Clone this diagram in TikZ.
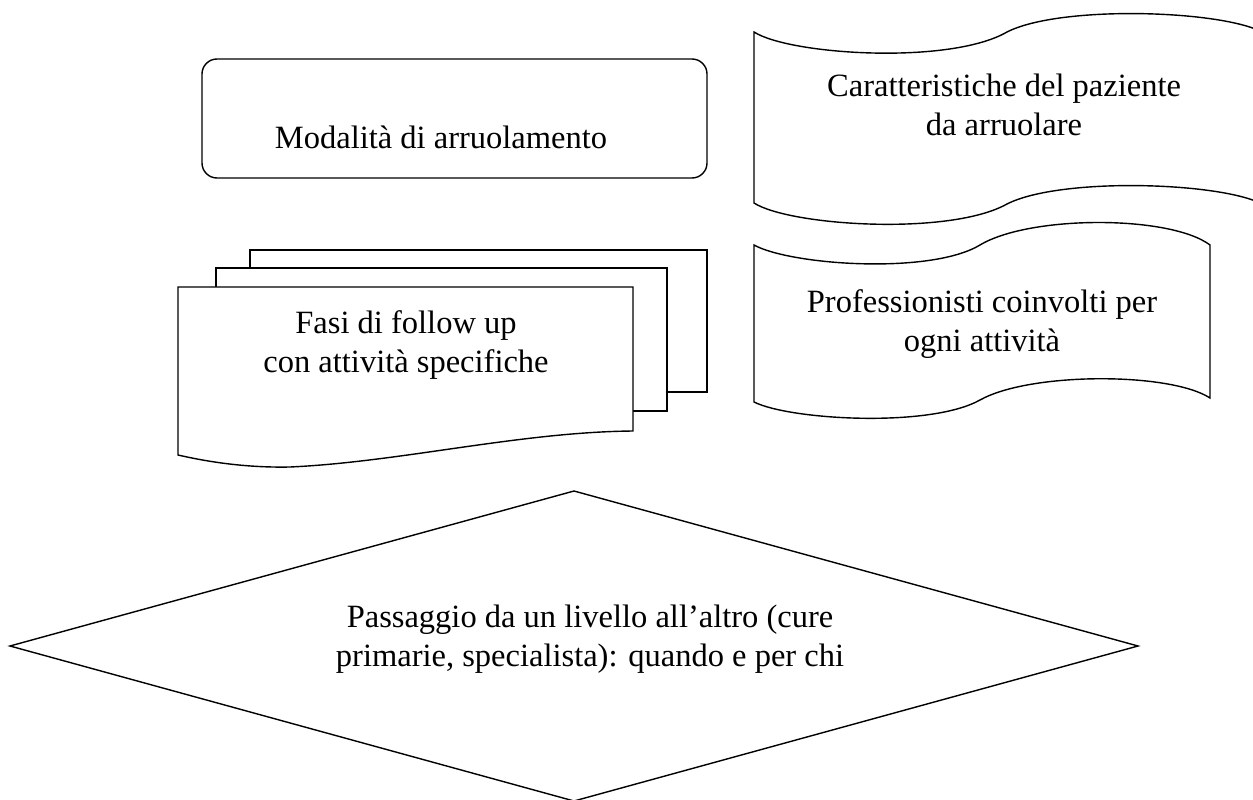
\documentclass[tikz,border=0pt]{standalone}
\usepackage{fontspec}
\setmainfont{Liberation Serif}
\def\sheet#1#2#3#4{\draw [fill=white] (#1,#2) rectangle (#3,#4);}
\begin{document}
\begin{tikzpicture}[x=0.02cm,y=-0.02cm,line width=0.8pt,
  lbl/.style={align=center,inner sep=0pt,font=\fontsize{18.5}{22}\selectfont}]
\useasboundingbox (0,0) rectangle (1253,800);
\clip (0,0) rectangle (1253,800);
% rounded box
\draw[rounded corners=0.3cm] (202,59) rectangle (707,178);
\node[lbl] (mod) at (441,137) {Modalità di arruolamento};
% tape, top right
\draw (754,32) .. controls (790,55) and (950,65) .. (1007,32)
  .. controls (1060,5) and (1220,10) .. (1262,32) -- (1262,204)
  .. controls (1220,182) and (1060,177) .. (1007,204)
  .. controls (950,236) and (790,226) .. (754,203) -- cycle;
\node[lbl] (car) at (1004,105) {Caratteristiche del paziente\\da arruolare};
% multidocument
\sheet{250}{250}{707}{392}
\sheet{216}{268}{667}{411}
\draw[fill=white] (178,287) -- (633,287) -- (633,431)
  .. controls (520,432) and (400,462) .. (290,467)
  .. controls (240,468) and (200,460) .. (178,455) -- cycle;
\node[lbl] (fasi) at (406,345) {Fasi di follow up\\con attività specifiche};
% tape, right
\draw (754,245) .. controls (790,265) and (930,275) .. (980,245)
  .. controls (1030,215) and (1170,215) .. (1210,245) -- (1210,398)
  .. controls (1170,372) and (1030,372) .. (980,400)
  .. controls (930,428) and (790,420) .. (754,402) -- cycle;
\node[lbl] (prof) at (982,324) {Professionisti coinvolti per\\ogni attività};
% decision
\draw (10,646) -- (574,491) -- (1138,646) -- (574,801) -- cycle;
\node[lbl] (pass) at (590,639) {Passaggio da un livello all’altro (cure\\primarie, specialista): quando e per chi};
\end{tikzpicture}
\end{document}
